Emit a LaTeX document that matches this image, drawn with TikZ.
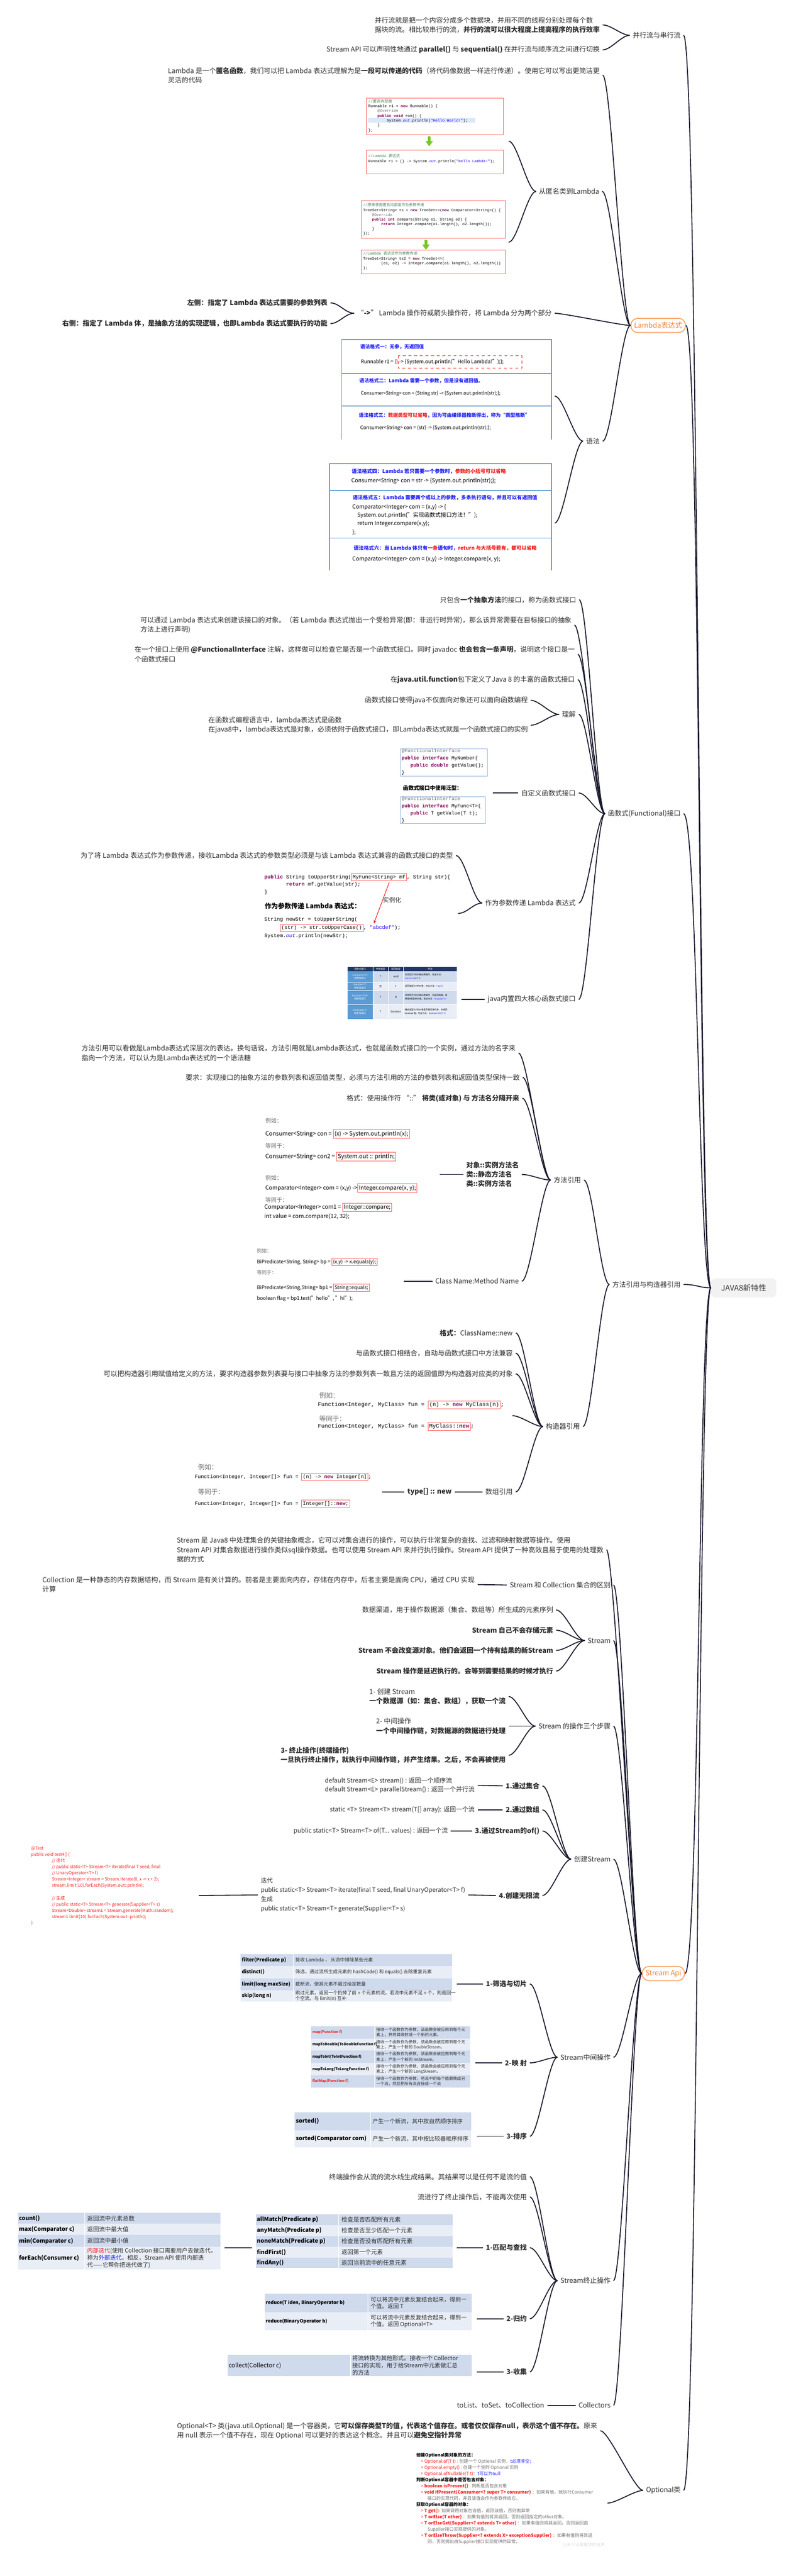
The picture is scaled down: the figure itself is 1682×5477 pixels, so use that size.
\documentclass[tikz,border=0pt]{standalone}
\usepackage{fontspec}
\setmainfont{Noto Sans CJK SC}
\setmonofont{Liberation Mono}
\newfontfamily\cjk{Noto Sans CJK SC}
\usetikzlibrary{calc}
\usetikzlibrary{arrows.meta}

\definecolor{lnk}{RGB}{25,25,45}
\definecolor{txt}{RGB}{45,45,45}
\definecolor{org}{RGB}{244,130,50}
\definecolor{orgb}{RGB}{248,170,115}
\definecolor{rootbg}{RGB}{242,242,242}
\definecolor{roottx}{RGB}{60,60,60}
\definecolor{tdark}{RGB}{207,218,237}
\definecolor{tlight}{RGB}{233,238,246}
\definecolor{thead}{RGB}{31,56,100}
\definecolor{tfirst}{RGB}{91,155,213}
\definecolor{tbl}{RGB}{91,155,213}
\definecolor{blu}{RGB}{30,30,245}
\definecolor{rd}{RGB}{240,30,30}
\definecolor{bx}{RGB}{255,95,95}
\definecolor{gry}{RGB}{110,110,110}
\definecolor{kw}{RGB}{127,0,85}
\definecolor{cm}{RGB}{63,127,95}
\definecolor{st}{RGB}{42,0,255}
\definecolor{hl}{RGB}{220,232,250}
\definecolor{grn}{RGB}{124,196,40}
\definecolor{ifb}{RGB}{150,180,215}

\newcommand\fs[2]{\fontsize{#1}{#2}\selectfont}
\newcommand\rbx[1]{{\setlength\fboxsep{1pt}\setlength\fboxrule{0.5pt}\fcolorbox{bx}{white}{#1}}}

\tikzset{
  lab/.style={anchor=east, inner xsep=3pt, inner ysep=1pt, text=txt, align=left, font=\fs{7.25}{10}},
  obox/.style={draw=orgb, line width=1.1pt, rounded corners=7pt, fill=white, text=org, minimum height=15pt, font=\fs{7.5}{9}},
  link/.style={draw=lnk, line width=1pt},
  cbox/.style={draw=bx, line width=0.6pt},
  cl/.style={anchor=west, inner sep=0pt, align=left},
}

\begin{document}
\begin{tikzpicture}[x=0.5pt,y=-0.5pt]
\useasboundingbox (0,0) rectangle (1682,5477);

% root and main branches
\node[fill=rootbg, rounded corners=5pt, text=roottx, minimum width=69.5pt, minimum height=20.5pt, font=\fs{8.2}{10}] (root) at (1582,2738) {JAVA8新特性};

\node[lab] (par) at (1454,75) {并行流与串行流};
\node[obox, minimum width=56.5pt] (lam) at (1400,692) {Lambda表达式};
\node[lab] (fun) at (1454,1730) {函数式(Functional)接口};
\node[lab] (mref) at (1454,2731) {方法引用与构造器引用};
\node[obox, minimum width=45pt] (sapi) at (1411,4196) {Stream Api};
\node[lab] (opt) at (1454,5295) {Optional类};

\foreach \c in {par,lam,fun,mref,sapi,opt}
  \draw[link] (root.west) .. controls +(-26,0) and +(30,0) .. (\c.east);

% parallel
\node[lab] (par1) at (1282,53) {并行流就是把一个内容分成多个数据块，并用不同的线程分别处理每个数\\据块的流。相比较串行的流，\textbf{并行的流可以很大程度上提高程序的执行效率}};
\node[lab] (par2) at (1282,106) {Stream API 可以声明性地通过 \textbf{parallel()} 与 \textbf{sequential()} 在并行流与顺序流之间进行切换};

% lambda
\node[lab] (lam1) at (1282,160) {Lambda 是一个\textbf{匿名函数}，我们可以把 Lambda 表达式理解为是\textbf{一段可以传递的代码}（将代码像数据一样进行传递）。使用它可以写出更简洁更\\灵活的代码};
\node[lab] (anon) at (1281,407) {从匿名类到Lambda};
\coordinate (anc1) at (1082,300);
\coordinate (anc2) at (1082,515);
\node[lab] (arw) at (1180,666) {“\textbf{->}” Lambda 操作符或箭头操作符，将 Lambda 分为两个部分};
\node[lab, font=\bfseries\fs{7.25}{10}] (lft) at (703,644) {左侧：指定了 Lambda 表达式需要的参数列表};
\node[lab, font=\bfseries\fs{7.25}{10}] (rgt) at (703,688) {右侧：指定了 Lambda 体，是抽象方法的实现逻辑，也即Lambda 表达式要执行的功能};
\node[lab] (syn) at (1282,938) {语法};
\coordinate (sy1) at (1180,842);
\coordinate (sy2) at (1180,1112);

% code pictures
\draw[cbox] (779,209) rectangle (1071,286);
\fill[hl] (783,251) rectangle (1011,261);
\node[cl, anchor=north west, font=\ttfamily\fs{4.1}{5.1}] (cd1) at (783,211) {{\color{cm}//{\cjk 匿名内部类}}\\Runnable r1 = {\color{kw}\textbf{new}} Runnable() \{\\~~~~{\color{gry}@Override}\\~~~~{\color{kw}\textbf{public void}} run() \{\\~~~~~~~~System.{\color{st}\textit{out}}.println({\color{st}"Hello World!"});\\~~~~\}\\\};};
\fill[grn] (910,290) -- (916,290) -- (916,300) -- (921,300) -- (913,311) -- (905,300) -- (910,300) -- cycle;
\draw[cbox] (779,319) rectangle (1071,370);
\node[cl, anchor=north west, font=\ttfamily\fs{4}{5.3}] (cd2) at (783,328) {{\color{cm}//Lambda {\cjk 表达式}}\\Runnable r1 = () -> System.{\color{st}\textit{out}}.println({\color{st}"Hello Lambda!"});};

\draw[cbox] (768,427) rectangle (1075,507);
\node[cl, anchor=north west, font=\ttfamily\fs{4}{5}] (cd3) at (772,432) {{\color{cm}//{\cjk 原来使用匿名内部类作为参数传递}}\\TreeSet<String> ts = {\color{kw}\textbf{new}} TreeSet<>({\color{kw}\textbf{new}} Comparator<String>() \{\\~~~~{\color{gry}@Override}\\~~~~{\color{kw}\textbf{public int}} compare(String o1, String o2) \{\\~~~~~~~~{\color{kw}\textbf{return}} Integer.\textit{compare}(o1.length(), o2.length());\\~~~~\}\\\});};
\fill[grn] (903,510) -- (909,510) -- (909,520) -- (914,520) -- (906,531) -- (898,520) -- (903,520) -- cycle;
\draw[cbox] (768,532) rectangle (1075,582);
\node[cl, anchor=north west, font=\ttfamily\fs{4}{5}] (cd4) at (772,535) {{\color{cm}//Lambda {\cjk 表达式作为参数传递}}\\TreeSet<String> ts2 = {\color{kw}\textbf{new}} TreeSet<>(\\~~~~~~~~(o1, o2) -> Integer.\textit{compare}(o1.length(), o2.length())\\);};

% syntax tables
\draw[tbl, line width=0.8pt] (727,934) -- (727,722) -- (1173,722) -- (1173,934);
\draw[tbl, line width=0.8pt] (727,794) -- (1173,794) (727,863) -- (1173,863);
\node[cl, text=blu, font=\bfseries\fs{5.2}{6}] at (766,737) {语法格式一：无参，无返回值};
\node[cl, font=\fs{5.4}{6.5}] at (767,770) {Runnable r1 = () -> \{System.out.println("Hello Lambda!");\};};
\draw[rd, dashed, line width=0.5pt] (847,756) rectangle (1110,783);
\node[cl, text=blu, font=\bfseries\fs{5.2}{6}] at (764,810) {语法格式二：Lambda 需要一个参数，但是没有返回值。};
\node[cl, font=\fs{5}{6}] at (767,837) {Consumer<String> con = (String str) -> \{System.out.println(str);\};};
\node[cl, font=\bfseries\fs{5.2}{6}] at (763,883) {{\color{blu}语法格式三：}{\color{rd}数据类型可以省略}{\color{blu}，因为可由编译器推断得出，称为“类型推断”}};
\node[cl, font=\fs{5.2}{6}] at (766,910) {Consumer<String> con = (str) -> \{System.out.println(str);\};};

\draw[tbl, line width=0.8pt] (701,1213) -- (701,986) -- (1173,986) -- (1173,1213);
\draw[tbl, line width=0.8pt] (701,1043) -- (1173,1043) (701,1144) -- (1173,1144);
\node[cl, font=\bfseries\fs{5.4}{6}] at (748,1002) {{\color{blu}语法格式四：Lambda 若只需要一个参数时，}{\color{rd}参数的小括号可以省略}};
\node[cl, font=\fs{5.9}{7}] at (747,1023) {Consumer<String> con = str -> \{System.out.println(str);\};};
\node[cl, text=blu, font=\bfseries\fs{5.4}{6}] at (750,1058) {语法格式五：Lambda 需要两个或以上的参数，多条执行语句，并且可以有返回值};
\node[cl, anchor=north west, font=\fs{5.9}{8.8}] at (749,1072) {Comparator<Integer> com = (x,y) -> \{\\~~~~System.out.println("实现函数式接口方法！");\\~~~~return Integer.compare(x,y);\\\};};
\node[cl, font=\bfseries\fs{5.4}{6}] at (752,1165) {{\color{blu}语法格式六：当 Lambda 体只有}{\color{rd}一条}{\color{blu}语句时，}{\color{rd}return 与大括号若有，都可以省略}};
\node[cl, font=\fs{5.9}{7}] at (749,1189) {Comparator<Integer> com = (x,y) -> Integer.compare(x, y);};

\foreach \p/\c in {par/par1,par/par2,lam/lam1,lam/anon,lam/arw,lam/syn,arw/lft,arw/rgt}
  \draw[link] (\p.west) .. controls +(-18,0) and +(18,0) .. (\c.east);
\foreach \p/\c in {anon/anc1,anon/anc2,syn/sy1,syn/sy2}
  \draw[link] (\p.west) .. controls +(-18,0) and +(18,0) .. (\c);

% functional interface
\node[lab] (f1) at (1232,1275) {只包含\textbf{一个抽象方法}的接口，称为函数式接口};
\node[lab] (f2) at (1222,1329) {可以通过 Lambda 表达式来创建该接口的对象。（若 Lambda 表达式抛出一个受检异常(即：非运行时异常)，那么该异常需要在目标接口的抽象\\方法上进行声明)};
\node[lab] (f3) at (1229,1391) {在一个接口上使用 \textbf{@FunctionalInterface} 注解，这样做可以检查它是否是一个函数式接口。同时 javadoc \textbf{也会包含一条声明}，说明这个接口是一\\个函数式接口};
\node[lab] (f4) at (1229,1445) {在\textbf{java.util.function}包下定义了Java 8 的丰富的函数式接口};
\node[lab] (f5) at (1231,1519) {理解};
\node[lab] (f5a) at (1129,1489) {函数式接口使得java不仅面向对象还可以面向函数编程};
\node[lab] (f5b) at (1129,1542) {在函数式编程语言中，lambda表达式是函数\\在java8中，lambda表达式是对象，必须依附于函数式接口，即Lambda表达式就是一个函数式接口的实例};
\node[lab] (f6) at (1231,1686) {自定义函数式接口};
\coordinate (f6c) at (1048,1686);
\node[lab] (f7) at (1231,1920) {作为参数传递 Lambda 表达式};
\node[lab] (f7a) at (970,1819) {为了将 Lambda 表达式作为参数传递，接收Lambda 表达式的参数类型必须是与该 Lambda 表达式兼容的函数式接口的类型};
\coordinate (f7c) at (975,1942);
\node[lab] (f8) at (1231,2125) {java内置四大核心函数式接口};
\coordinate (f8c) at (981,2125);

\foreach \p/\c in {fun/f1,fun/f2,fun/f3,fun/f4,fun/f5,fun/f6,fun/f7,fun/f8,f5/f5a,f5/f5b,f7/f7a}
  \draw[link] (\p.west) .. controls +(-18,0) and +(18,0) .. (\c.east);
\draw[link] (f7.west) .. controls +(-18,0) and +(18,0) .. (f7c);
\draw[link] (f6.west) -- (f6c);
\draw[link] (f8.west) -- (f8c);

% custom interface pictures
\draw[ifb, line width=0.5pt] (852,1592) rectangle (1037,1650);
\node[cl, anchor=north west, font=\ttfamily\fs{5.2}{7.6}] at (854,1592) {{\color{gry}@FunctionalInterface}\\{\color{kw}\textbf{public interface}} MyNumber\{\\~~~{\color{kw}\textbf{public double}} getValue();\\\}};
\node[cl, font=\bfseries\fs{5.7}{7}] at (857,1675) {函数式接口中使用泛型：};
\draw[ifb, line width=0.5pt] (852,1694) rectangle (1032,1751);
\node[cl, anchor=north west, font=\ttfamily\fs{5.2}{7.6}] at (854,1694) {{\color{gry}@FunctionalInterface}\\{\color{kw}\textbf{public interface}} MyFunc<T>\{\\~~~{\color{kw}\textbf{public}} T getValue(T t);\\\}};

% lambda as argument picture
\node[cl, font=\ttfamily\fs{5.5}{7}] (up1) at (562,1865) {{\color{kw}\textbf{public}} String toUpperString(\rbx{MyFunc<String> mf}, String str)\{};
\node[cl, font=\ttfamily\fs{5.5}{7}] at (562,1881) {~~~~~~~{\color{kw}\textbf{return}} mf.getValue(str);};
\node[cl, font=\ttfamily\fs{5.5}{7}] at (562,1897) {\}};
\node[cl, font=\bfseries\fs{7}{8}] at (563,1926) {作为参数传递 Lambda 表达式：};
\node[cl, font=\fs{6.5}{8}, text=txt] at (814,1914) {实例化};
\node[cl, font=\ttfamily\fs{5.5}{7}] at (562,1955) {String newStr = toUpperString(};
\node[cl, font=\ttfamily\fs{5.5}{7}] at (562,1973) {~~~~~\rbx{(str) -> str.toUpperCase()}, {\color{st}"abcdef"});};
\node[cl, font=\ttfamily\fs{5.5}{7}] at (562,1990) {System.{\color{st}\textit{out}}.println(newStr);};
\draw[rd, line width=0.6pt, -{Stealth[length=4pt]}] (828,1876) -- (795,1964);

% four core interfaces table
\fill[thead] (739,2056) rectangle (972,2065);
\fill[tfirst] (739,2065) rectangle (793,2167);
\foreach \ya/\yb/\cc in {2065/2088/tdark,2088/2106/tlight,2106/2135/tdark,2135/2167/tlight}
  \fill[\cc] (793,\ya) rectangle (972,\yb);
\draw[white, line width=0.4pt] (793,2056) -- (793,2167) (826,2056) -- (826,2167) (858,2056) -- (858,2167);
\draw[white, line width=0.4pt] (739,2088) -- (972,2088) (739,2106) -- (972,2106) (739,2135) -- (972,2135);
\foreach \xx/\tt in {766/函数式接口,809.5/参数类型,842/返回类型,915/用途}
  \node[text=white, inner sep=0pt, font=\fs{2.4}{3}] at (\xx,2060.5) {\tt};
\foreach \yy/\tt in {2076.5/Consumer<T>\\消费型接口,2097/Supplier<T>\\供给型接口,2120.5/{Function<T, R>}\\函数型接口,2151/Predicate<T>\\断定型接口}
  \node[text=white, inner sep=0pt, align=center, font=\fs{2.5}{3.4}] at (766,\yy) {\tt};
\foreach \yy/\aa/\bb in {2076.5/T/void,2097/无/T,2120.5/T/R,2151/T/boolean}
  {\node[inner sep=0pt, font=\fs{2.8}{3.4}] at (809.5,\yy) {\aa};
   \node[inner sep=0pt, font=\fs{2.8}{3.4}] at (842,\yy) {\bb};}
\node[cl, font=\fs{2.3}{3.6}] at (861,2076.5) {对类型为T的对象应用操作，包含方法：\\{\color{blu}void accept(T t)}};
\node[cl, font=\fs{2.3}{3.6}] at (861,2097) {返回类型为T的对象，包含方法：{\color{blu}T get()}};
\node[cl, font=\fs{2.3}{3.6}] at (861,2120.5) {对类型为T的对象应用操作，并返回结果。结\\果是R类型的对象。包含方法：{\color{blu}R apply(T t)}};
\node[cl, font=\fs{2.3}{3.6}] at (861,2151) {确定类型为T的对象是否满足某约束，并返回\\boolean 值。包含方法：{\color{blu}boolean test(T t)}};

% method references
\node[lab] (mr1) at (1242,2509) {方法引用};
\node[lab] (m1) at (1103,2239) {方法引用可以看做是Lambda表达式深层次的表达。换句话说，方法引用就是Lambda表达式，也就是函数式接口的一个实例，通过方法的名字来\\指向一个方法，可以认为是Lambda表达式的一个语法糖};
\node[lab] (m2) at (1112,2291) {要求：实现接口的抽象方法的参数列表和返回值类型，必须与方法引用的方法的参数列表和返回值类型保持一致};
\node[lab] (m3) at (1111,2335) {格式：使用操作符 “::” \textbf{将类(或对象) 与 方法名分隔开来}};
\node[lab, font=\bfseries\fs{7.25}{9.75}] (m4) at (1110,2497) {对象::实例方法名\\类::静态方法名\\类::实例方法名};
\coordinate (m4c) at (935,2497);
\node[lab] (m5) at (1110,2724) {Class Name:Method Name};
\coordinate (m5c) at (859,2724);

\node[cl, text=gry, font=\fs{6}{7}] at (564,2383) {例如：};
\node[cl, font=\fs{6.2}{7.5}] at (564,2411) {Consumer<String> con = \rbx{(x) -> System.out.println(x);}};
\node[cl, text=gry, font=\fs{6}{7}] at (564,2437) {等同于：};
\node[cl, font=\fs{6.2}{7.5}] at (564,2459) {Consumer<String> con2 = \rbx{System.out :: println;}};
\node[cl, text=gry, font=\fs{6}{7}] at (564,2504) {例如：};
\node[cl, font=\fs{6}{7.5}] at (564,2526) {Comparator<Integer> com = (x,y) ->\rbx{Integer.compare(x, y);}};
\node[cl, text=gry, font=\fs{6}{7}] at (564,2551) {等同于：};
\node[cl, font=\fs{6}{7.5}] at (562,2567) {Comparator<Integer> com1 = \rbx{Integer::compare;}};
\node[cl, font=\fs{6}{7.5}] at (562,2586) {int value = com.compare(12, 32);};

\node[cl, text=gry, font=\fs{5.2}{6}] at (546,2659) {例如：};
\node[cl, font=\fs{5.3}{6.5}] at (546,2683) {BiPredicate<String, String> bp = \rbx{(x,y) -> x.equals(y);}};
\node[cl, text=gry, font=\fs{5.2}{6}] at (546,2706) {等同于：};
\node[cl, font=\fs{5.3}{6.5}] at (546,2738) {BiPredicate<String,String> bp1 = \rbx{String::equals;}};
\node[cl, font=\fs{5.3}{6.5}] at (546,2761) {boolean flag = bp1.test("hello", "hi");};

% constructor references
\node[lab] (mr2) at (1240,3033) {构造器引用};
\node[lab] (c1) at (1097,2834) {\textbf{格式：}ClassName::new};
\node[lab] (c2) at (1097,2877) {与函数式接口相结合，自动与函数式接口中方法兼容};
\node[lab] (c3) at (1097,2921) {可以把构造器引用赋值给定义的方法，要求构造器参数列表要与接口中抽象方法的参数列表一致且方法的返回值即为构造器对应类的对象};
\coordinate (c4c) at (1090,3010);
\node[lab] (c5) at (1097,3172) {数组引用};
\node[lab] (tn) at (967,3172) {\textbf{type[] :: new}};
\coordinate (c5c) at (813,3172);

\node[cl, text=gry, font=\fs{7}{8}] at (679,2967) {例如：};
\node[cl, font=\ttfamily\fs{5.9}{7}] at (676,2987) {Function<Integer, MyClass> fun = \rbx{(n) -> {\color{kw}\textbf{new}} MyClass(n)};};
\node[cl, text=gry, font=\fs{7}{8}] at (679,3016) {等同于：};
\node[cl, font=\ttfamily\fs{5.9}{7}] at (676,3033) {Function<Integer, MyClass> fun = \rbx{MyClass::{\color{kw}\textbf{new}}};};
\node[cl, text=gry, font=\fs{7}{8}] at (421,3119) {例如：};
\node[cl, font=\ttfamily\fs{5.4}{7}] at (414,3140) {Function<Integer, Integer[]> fun = \rbx{(n) -> {\color{kw}\textbf{new}} Integer[n]};};
\node[cl, text=gry, font=\fs{7}{8}] at (421,3172) {等同于：};
\node[cl, font=\ttfamily\fs{5.4}{7}] at (414,3197) {Function<Integer, Integer[]> fun = \rbx{Integer[]::{\color{kw}\textbf{new}};}};

\foreach \p/\c in {mref/mr1,mref/mr2,mr1/m1,mr1/m2,mr1/m3,mr1/m4,mr1/m5,mr2/c1,mr2/c2,mr2/c3,mr2/c5}
  \draw[link] (\p.west) .. controls +(-18,0) and +(18,0) .. (\c.east);
\draw[link] (mr2.west) .. controls +(-18,0) and +(18,0) .. (c4c);
\draw[link] (m4.west) -- (m4c);
\draw[link] (m5.west) -- (m5c);
\draw[link] (c5.west) -- (tn.east);
\draw[link] (tn.west) -- (c5c);

% stream api
\node[lab] (s1) at (1290,3295) {Stream 是 Java8 中处理集合的关键抽象概念，它可以对集合进行的操作，可以执行非常复杂的查找、过滤和映射数据等操作。使用\\Stream API 对集合数据进行操作类似sql操作数据。也可以使用 Stream API 来并行执行操作。Stream API 提供了一种高效且易于使用的处理数\\据的方式};
\node[lab] (s2) at (1305,3370) {Stream 和 Collection 集合的区别};
\node[lab] (s2a) at (1016,3369) {Collection 是一种静态的内存数据结构，而 Stream 是有关计算的。前者是主要面向内存，存储在内存中，后者主要是面向 CPU，通过 CPU 实现\\计算};
\node[lab] (s3) at (1305,3488) {Stream};
\node[lab] (s3a) at (1183,3423) {数据渠道，用于操作数据源（集合、数组等）所生成的元素序列};
\node[lab, font=\bfseries\fs{7.25}{10}] (s3b) at (1183,3466) {Stream 自己不会存储元素};
\node[lab, font=\bfseries\fs{7.25}{10}] (s3c) at (1183,3509) {Stream 不会改变源对象。他们会返回一个持有结果的新Stream};
\node[lab, font=\bfseries\fs{7.25}{10}] (s3d) at (1183,3553) {Stream 操作是延迟执行的。会等到需要结果的时候才执行};
\node[lab] (s4) at (1305,3670) {Stream 的操作三个步骤};
\node[lab] (s4a) at (1082,3607) {1- 创建 Stream\\\textbf{一个数据源（如：集合、数组），获取一个流}};
\node[lab] (s4b) at (1082,3670) {2- 中间操作\\\textbf{一个中间操作链，对数据源的数据进行处理}};
\node[lab] (s4c) at (1082,3732) {\textbf{3- 终止操作(终端操作)}\\\textbf{一旦执行终止操作，就执行中间操作链，并产生结果。之后，不会再被使用}};

\node[lab] (s5) at (1305,3953) {创建Stream};
\node[lab, font=\bfseries\fs{7.25}{10}] (s5a) at (1154,3797) {1.通过集合};
\node[lab, font=\fs{6.6}{9.5}] (s5at) at (1016,3796) {default Stream<E> stream() : 返回一个顺序流\\default Stream<E> parallelStream() : 返回一个并行流};
\node[lab, font=\bfseries\fs{7.25}{10}] (s5b) at (1154,3848) {2.通过数组};
\node[lab, font=\fs{6.6}{9.5}] (s5bt) at (1016,3848) {static <T> Stream<T> stream(T[] array): 返回一个流};
\node[lab, font=\bfseries\fs{7.25}{10}] (s5c) at (1154,3893) {3.通过Stream的of()};
\node[lab, font=\fs{6.6}{9.5}] (s5ct) at (959,3893) {public static<T> Stream<T> of(T... values) : 返回一个流};
\node[lab, font=\bfseries\fs{7.25}{10}] (s5d) at (1154,4030) {4.创建无限流};
\node[lab, font=\fs{6.4}{9.8}] (s5dt) at (996,4029) {迭代\\public static<T> Stream<T> iterate(final T seed, final UnaryOperator<T> f)\\生成\\public static<T> Stream<T> generate(Supplier<T> s)};
\coordinate (s5dc) at (423,4030);
\node[cl, anchor=north west, text=rd, font=\fs{4.6}{6.6}] at (66,3926) {@Test\\public void test4() \{\\\hspace*{22pt}// 迭代\\\hspace*{22pt}// public static<T> Stream<T> iterate(final T seed, final\\\hspace*{22pt}// UnaryOperator<T> f)\\\hspace*{22pt}Stream<Integer> stream = Stream.iterate(0, x -> x + 2);\\\hspace*{22pt}stream.limit(10).forEach(System.out::println);\\[6.6pt]\hspace*{22pt}// 生成\\\hspace*{22pt}// public static<T> Stream<T> generate(Supplier<T> s)\\\hspace*{22pt}Stream<Double> stream1 = Stream.generate(Math::random);\\\hspace*{22pt}stream1.limit(10).forEach(System.out::println);\\\}};

\node[lab] (s6) at (1305,4374) {Stream中间操作};
\node[lab, font=\bfseries\fs{7.25}{10}] (s6a) at (1127,4218) {1-筛选与切片};
\coordinate (s6ac) at (972,4218);
\node[lab, font=\bfseries\fs{7.25}{10}] (s6b) at (1127,4386) {2-映 射};
\coordinate (s6bc) at (1011,4386);
\node[lab, font=\bfseries\fs{7.25}{10}] (s6c) at (1127,4542) {3-排序};
\coordinate (s6cc) at (1014,4542);

% filter table
\foreach \ya/\yb/\cc in {4155/4180/tdark,4180/4206/tlight,4206/4231/tdark,4231/4256/tlight}
  \fill[\cc] (512,\ya) rectangle (962,\yb);
\draw[white, line width=0.6pt] (624,4155) -- (624,4256);
\foreach \yy/\aa in {4167.5/filter(Predicate p),4193/distinct(),4218.5/limit(long maxSize),4243.5/skip(long n)}
  \node[cl, font=\bfseries\fs{5.2}{6}] at (514,\yy) {\aa};
\node[cl, text=txt, font=\fs{5}{6}] at (628,4167.5) {接收 Lambda ， 从流中排除某些元素};
\node[cl, text=txt, font=\fs{5}{6}] at (628,4193) {筛选，通过流所生成元素的 hashCode() 和 equals() 去除重复元素};
\node[cl, text=txt, font=\fs{5}{6}] at (628,4218.5) {截断流，使其元素不超过给定数量};
\node[cl, text=txt, font=\fs{5}{6}] at (628,4243.5) {跳过元素，返回一个扔掉了前 n 个元素的流。若流中元素不足 n 个，则返回一\\个空流。与 limit(n) 互补};

% map table
\foreach \ya/\yb/\cc in {4308/4334/tdark,4334/4360/tlight,4360/4386/tdark,4386/4412/tlight,4412/4438/tdark}
  \fill[\cc] (662,\ya) rectangle (1000,\yb);
\draw[white, line width=0.6pt] (797,4308) -- (797,4438);
\node[cl, text=rd, font=\bfseries\fs{3.9}{5}] at (664,4321) {map(Function f)};
\node[cl, font=\bfseries\fs{3.9}{5}] at (664,4347) {mapToDouble(ToDoubleFunction f)};
\node[cl, font=\bfseries\fs{3.9}{5}] at (664,4373) {mapToInt(ToIntFunction f)};
\node[cl, font=\bfseries\fs{3.9}{5}] at (664,4399) {mapToLong(ToLongFunction f)};
\node[cl, text=rd, font=\bfseries\fs{3.9}{5}] at (664,4425) {flatMap(Function f)};
\node[cl, text=txt, font=\fs{4.3}{5.6}] at (800,4321) {接收一个函数作为参数，该函数会被应用到每个元\\素上，并将其映射成一个新的元素。};
\node[cl, text=txt, font=\fs{4.3}{5.6}] at (800,4347) {接收一个函数作为参数，该函数会被应用到每个元\\素上，产生一个新的 DoubleStream。};
\node[cl, text=txt, font=\fs{4.3}{5.6}] at (800,4373) {接收一个函数作为参数，该函数会被应用到每个元\\素上，产生一个新的 IntStream。};
\node[cl, text=txt, font=\fs{4.3}{5.6}] at (800,4399) {接收一个函数作为参数，该函数会被应用到每个元\\素上，产生一个新的 LongStream。};
\node[cl, text=txt, font=\fs{4.3}{5.6}] at (800,4425) {接收一个函数作为参数，将流中的每个值都换成另\\一个流，然后把所有流连接成一个流};

% sort table
\fill[tdark] (627,4491) rectangle (1002,4529);
\fill[tlight] (627,4529) rectangle (1002,4566);
\draw[white, line width=0.6pt] (788,4491) -- (788,4566);
\node[cl, font=\bfseries\fs{6}{7}] at (629,4510) {sorted()};
\node[cl, font=\bfseries\fs{6}{7}] at (629,4547.5) {sorted(Comparator com)};
\node[cl, text=txt, font=\fs{6}{7}] at (792,4510) {产生一个新流，其中按自然顺序排序};
\node[cl, text=txt, font=\fs{6}{7}] at (792,4547.5) {产生一个新流，其中按比较器顺序排序};

\node[lab] (s7) at (1305,4849) {Stream终止操作};
\node[lab] (s7a) at (1127,4628) {终端操作会从流的流水线生成结果。其结果可以是任何不是流的值};
\node[lab] (s7b) at (1127,4671) {流进行了终止操作后，不能再次使用};
\node[lab, font=\bfseries\fs{7.25}{10}] (s7c) at (1127,4779) {1-匹配与查找};
\coordinate (s7cc) at (972,4779);
\coordinate (mt1) at (536,4779);
\coordinate (mt2) at (478,4779);
\node[lab, font=\bfseries\fs{7.25}{10}] (s7d) at (1127,4930) {2-归约};
\coordinate (s7dc) at (1014,4930);
\node[lab, font=\bfseries\fs{7.25}{10}] (s7e) at (1127,5043) {3-收集};
\coordinate (s7ec) at (1014,5043);

% match table
\foreach \ya/\yb/\cc in {4708/4731/tdark,4731/4754/tlight,4754/4777/tdark,4777/4800/tlight,4800/4822/tdark}
  \fill[\cc] (544,\ya) rectangle (963,\yb);
\draw[white, line width=0.6pt] (720,4708) -- (720,4822);
\foreach \yy/\aa/\bb in {4719.5/allMatch(Predicate p)/检查是否匹配所有元素,4742.5/anyMatch(Predicate p)/检查是否至少匹配一个元素,4765.5/noneMatch(Predicate  p)/检查是否没有匹配所有元素,4788.5/findFirst()/返回第一个元素,4811/findAny()/返回当前流中的任意元素}
  {\node[cl, font=\bfseries\fs{6}{7}] at (546,\yy) {\aa};
   \node[cl, text=txt, font=\fs{6.3}{7}] at (726,\yy) {\bb};}

% count table
\foreach \ya/\yb/\cc in {4705/4728/tdark,4728/4752/tlight,4752/4777/tdark,4777/4825/tlight}
  \fill[\cc] (38,\ya) rectangle (469,\yb);
\draw[white, line width=0.6pt] (180,4705) -- (180,4825);
\foreach \yy/\aa/\bb in {4716.5/count()/返回流中元素总数,4740/max(Comparator c)/返回流中最大值,4764.5/min(Comparator c)/返回流中最小值}
  {\node[cl, font=\bfseries\fs{6}{7}] at (40,\yy) {\aa};
   \node[cl, text=txt, font=\fs{6.3}{7}] at (185,\yy) {\bb};}
\node[cl, font=\bfseries\fs{6}{7}] at (40,4801) {forEach(Consumer c)};
\node[cl, text=txt, font=\fs{6.1}{7.9}] at (185,4801) {{\color{rd}内部迭代}(使用 Collection 接口需要用户去做迭代，\\称为{\color{blu}外部迭代}。相反，Stream API 使用内部迭\\代——它帮你把迭代做了)};

% reduce table
\fill[tdark] (563,4877) rectangle (1003,4916);
\fill[tlight] (563,4916) rectangle (1003,4954);
\draw[white, line width=0.6pt] (783,4877) -- (783,4954);
\node[cl, font=\bfseries\fs{5}{6}] at (565,4896.5) {reduce(T iden, BinaryOperator b)};
\node[cl, font=\bfseries\fs{5}{6}] at (565,4935) {reduce(BinaryOperator b)};
\node[cl, text=txt, font=\fs{6}{7.2}] at (788,4896.5) {可以将流中元素反复结合起来，得到一\\个值。返回 T};
\node[cl, text=txt, font=\fs{6}{7.2}] at (788,4935) {可以将流中元素反复结合起来，得到一\\个值。返回 Optional<T>};

% collect table
\fill[tdark] (484,5007) rectangle (1003,5052);
\draw[white, line width=0.6pt] (746,5007) -- (746,5052);
\node[cl, font=\fs{6.4}{7}] at (486,5029.5) {collect(Collector c)};
\node[cl, text=txt, font=\fs{6.1}{7.6}] at (749,5029.5) {将流转换为其他形式。接收一个 Collector\\接口的实现，用于给Stream中元素做汇总\\的方法};

\node[lab] (s8) at (1305,5114) {Collectors};
\node[lab] (s8a) at (1164,5114) {toList、toSet、toCollection};

\foreach \p/\c in {sapi/s1,sapi/s2,sapi/s3,sapi/s4,sapi/s5,sapi/s6,sapi/s7,sapi/s8,s3/s3a,s3/s3b,s3/s3c,s3/s3d,s4/s4a,s4/s4b,s4/s4c,s5/s5a,s5/s5b,s5/s5c,s5/s5d,s6/s6a,s6/s6b,s6/s6c,s7/s7a,s7/s7b,s7/s7c,s7/s7d,s7/s7e}
  \draw[link] (\p.west) .. controls +(-18,0) and +(18,0) .. (\c.east);
\foreach \p/\c in {s2/s2a,s5a/s5at,s5b/s5bt,s5c/s5ct,s5d/s5dt,s8/s8a}
  \draw[link] (\p.west) -- (\c.east);
\foreach \p/\c in {s5dt/s5dc,s6a/s6ac,s6b/s6bc,s6c/s6cc,s7c/s7cc,s7d/s7dc,s7e/s7ec}
  \draw[link] (\p.west) -- (\c);
\draw[link] (mt1) -- (mt2);

% optional
\node[lab] (o1) at (1277,5168) {Optional<T> 类(java.util.Optional) 是一个容器类，它\textbf{可以保存类型T的值，代表这个值存在。或者仅仅保存null，表示这个值不存在。}原来\\用 null 表示一个值不存在，现在 Optional 可以更好的表达这个概念。并且可以\textbf{避免空指针异常}};
\coordinate (o2c) at (1292,5322);
\draw[link] (opt.west) .. controls +(-18,0) and +(18,0) .. (o1.east);
\draw[link] (opt.west) .. controls +(-18,0) and +(18,0) .. (o2c);

\node[cl, anchor=north west, text=gry, font=\fs{4.7}{6.55}] at (885,5215) {{\color{black}\textbf{创建Optional类对象的方法：}}\\
\hspace*{5pt}{\color{rd}> Optional.of(T t)} : 创建一个 Optional 实例，{\color{blu}t必须非空；}\\
\hspace*{5pt}{\color{rd}> Optional.empty()} : 创建一个空的 Optional 实例\\
\hspace*{5pt}{\color{rd}> Optional.ofNullable(T t)}：{\color{blu}t可以为null}\\
{\color{black}\textbf{判断Optional容器中是否包含对象：}}\\
\hspace*{5pt}{\color{rd}> \textbf{boolean isPresent()}} : 判断是否包含对象\\
\hspace*{5pt}{\color{rd}> \textbf{void ifPresent(Consumer<? super T> consumer)}} ：如果有值，就执行Consumer\\
\hspace*{12pt}接口的实现代码，并且该值会作为参数传给它。\\
{\color{black}\textbf{获取Optional容器的对象：}}\\
\hspace*{5pt}{\color{rd}> \textbf{T get()}}: 如果调用对象包含值，返回该值，否则抛异常\\
\hspace*{5pt}{\color{rd}> \textbf{T orElse(T other)}} ：如果有值则将其返回，否则返回指定的other对象。\\
\hspace*{5pt}{\color{rd}> \textbf{T orElseGet(Supplier<? extends T> other)}} ：如果有值则将其返回，否则返回由\\
\hspace*{12pt}Supplier接口实现提供的对象。\\
\hspace*{5pt}{\color{rd}> \textbf{T orElseThrow(Supplier<? extends X> exceptionSupplier)}} ：如果有值则将其返\\
\hspace*{12pt}回，否则抛出由Supplier接口实现提供的异常。};
\node[cl, text=black!15, font=\fs{4.5}{5}] at (1196,5410) {让天下没有难学的技术};

\end{tikzpicture}
\end{document}
